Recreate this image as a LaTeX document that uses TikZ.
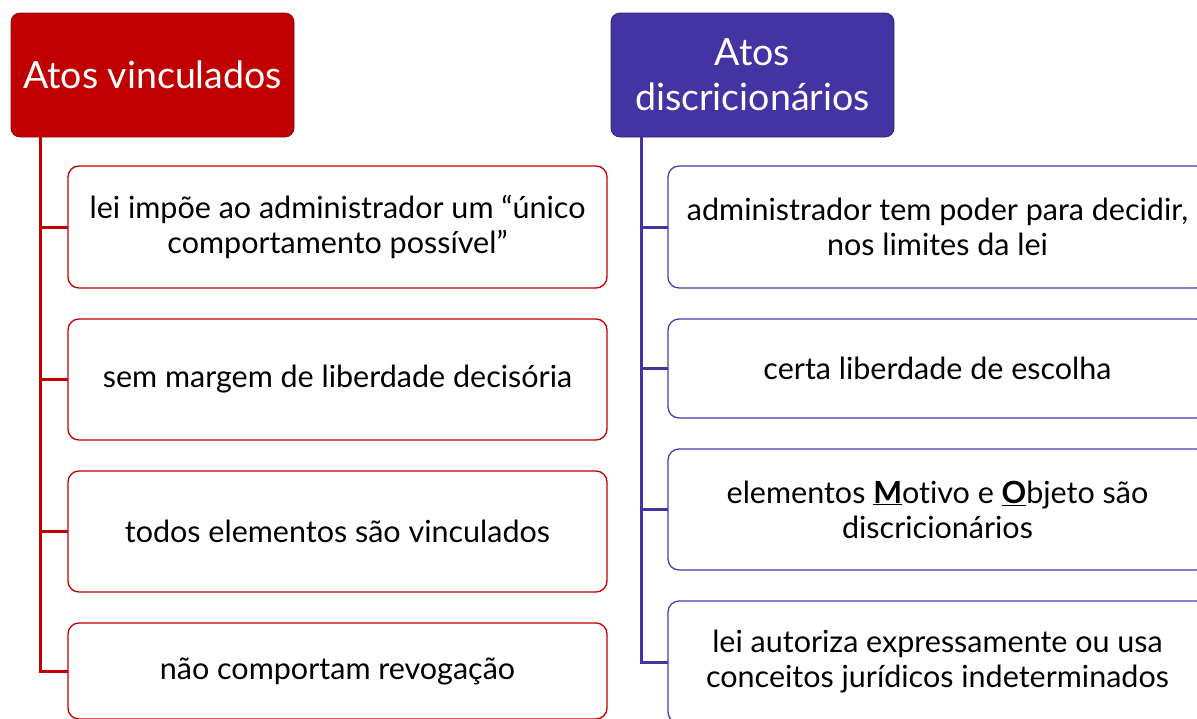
\documentclass[tikz,border=0pt]{standalone}
\usepackage{fontspec}
\setmainfont[Ligatures={NoCommon}]{Lato}
\definecolor{vred}{HTML}{C00000}
\definecolor{vredd}{HTML}{8A1010}
\definecolor{dpur}{HTML}{4333A3}
\definecolor{dpurd}{HTML}{2E2470}
\definecolor{bpur}{HTML}{4A3BB0}
\tikzset{
  header/.style={rectangle, rounded corners=9pt, anchor=north west, inner sep=0pt, outer sep=0pt,
    minimum width=283pt, minimum height=124pt, align=center, text=white,
    font=\fontsize{37.5}{45}\selectfont, line width=0.8pt},
  hred/.style={header, fill=vred, draw=vredd},
  hpur/.style={header, fill=dpur, draw=dpurd},
  child/.style={rectangle, rounded corners=11pt, anchor=north west, inner sep=0pt, outer sep=0pt,
    minimum width=539pt, fill=white, line width=1.3pt, align=center, text=black,
    font=\fontsize{30.5}{35}\selectfont},
  cred/.style={child, draw=vred},
  cpur/.style={child, draw=bpur},
  conn/.style={line width=3pt},
}
\begin{document}
\begin{tikzpicture}[x=1pt,y=-1pt]
\useasboundingbox (0,0) rectangle (1197,718);
\clip (0,0) rectangle (1197,718);
% left column
\node[hred] (hl) at (11,13) {Atos vinculados};
\node[cred, minimum height=122pt] (l1) at (68,166) {lei impõe ao administrador um “único\\comportamento possível”};
\node[cred, minimum height=121pt] (l2) at (68,319) {sem margem de liberdade decisória};
\node[cred, minimum height=121pt] (l3) at (68,471) {todos elementos são vinculados};
\node[cred, minimum height=96pt] (l4) at (68,623) {não comportam revogação};
\coordinate (lt) at (40,137);
\foreach \b in {l1,l2,l3,l4} \draw[conn, vred] (lt) |- (\b.west);
% right column
\node[hpur] (hr) at (611,13) {Atos\\discricionários};
\node[cpur, minimum height=122pt] (r1) at (668,166) {administrador tem poder para decidir,\\nos limites da lei};
\node[cpur, minimum height=99pt] (r2) at (668,319) {certa liberdade de escolha};
\node[cpur, minimum height=121pt] (r3) at (668,449) {elementos \underline{\textbf{M}}otivo e \underline{\textbf{O}}bjeto são\\discricionários};
\node[cpur, minimum height=122pt] (r4) at (668,601) {lei autoriza expressamente ou usa\\conceitos jurídicos indeterminados};
\coordinate (rt) at (641,137);
\foreach \b in {r1,r2,r3,r4} \draw[conn, dpur] (rt) |- (\b.west);
\end{tikzpicture}
\end{document}
